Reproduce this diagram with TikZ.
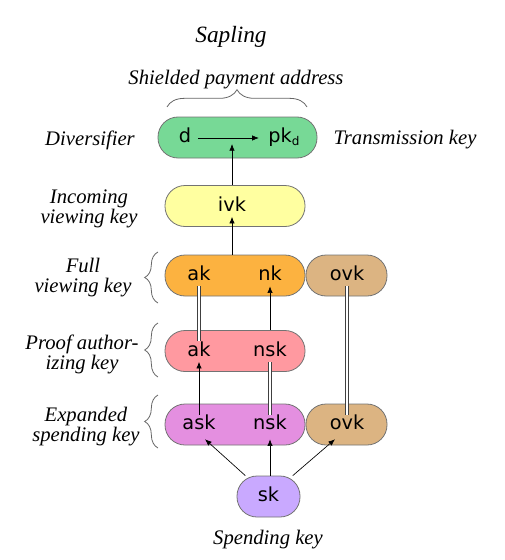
\documentclass[tikz,border=0pt]{standalone}
\usepackage{fontspec}
\setmainfont{Liberation Serif}
\newfontfamily\boxfont{DejaVu Sans}
\usetikzlibrary{arrows.meta,decorations.pathreplacing,calc}
\definecolor{cgreen}{RGB}{119,217,150}
\definecolor{cyellow}{RGB}{255,255,160}
\definecolor{corange}{RGB}{252,178,64}
\definecolor{cbrown}{RGB}{220,180,130}
\definecolor{cpink}{RGB}{255,153,160}
\definecolor{cmagenta}{RGB}{228,143,224}
\definecolor{clav}{RGB}{201,169,255}
\begin{document}
\begin{tikzpicture}[x=0.75pt,y=-0.75pt,
  keybox/.style={draw=black!55, line width=0.6pt, rounded corners=15pt, minimum height=30.75pt, inner sep=0pt},
  keytext/.style={font=\boxfont\fontsize{14.5}{17}\selectfont, inner sep=1pt, text height=10pt, text depth=3pt},
  lab/.style={font=\itshape\fontsize{15.5}{15}\selectfont, align=center},
  arr/.style={-{Latex[length=5pt,width=4pt]}, line width=0.5pt},
  dbl/.style={double=white, draw=black!75, double distance=1.4pt, line width=0.45pt},
  brc/.style={decorate, decoration={brace, amplitude=#1}, draw=black!60, line width=0.6pt}]
\useasboundingbox (0,0) rectangle (505,560);
% boxes
\node[keybox, fill=cgreen, minimum width=119.25pt] (green) at (237.5,137.5) {};
\node[keybox, fill=cyellow, minimum width=105pt] (yellow) at (235,206) {};
\node[keybox, fill=corange, minimum width=105pt] (orange) at (235,275.5) {};
\node[keybox, fill=cbrown, minimum width=60.75pt] (brownO) at (346.5,275.5) {};
\node[keybox, fill=cpink, minimum width=105pt] (pink) at (235,351) {};
\node[keybox, fill=cmagenta, minimum width=105pt] (magenta) at (235,424.5) {};
\node[keybox, fill=cbrown, minimum width=60.75pt] (brownE) at (346.5,424.5) {};
\node[keybox, fill=clav, minimum width=47.25pt] (skbox) at (268.5,496.5) {};
% texts in boxes
\node[keytext] (d) at (185,138) {d};
\node[keytext] (pk) at (284,138) {pk\raisebox{-0.25ex}{\fontsize{9}{9}\selectfont d}};
\node[keytext] (ivk) at (232,206.5) {ivk};
\node[keytext] (akO) at (199,276) {ak};
\node[keytext] (nkO) at (270,276) {nk};
\node[keytext] (ovkO) at (347,276) {ovk};
\node[keytext] (akP) at (199,351.5) {ak};
\node[keytext] (nskP) at (270,351.5) {nsk};
\node[keytext] (askE) at (199,425) {ask};
\node[keytext] (nskE) at (270,425) {nsk};
\node[keytext] (ovkE) at (347,425) {ovk};
\node[keytext] (sk) at (268.5,497) {sk};
% labels
\node[lab, font=\itshape\fontsize{17.5}{17}\selectfont] (title) at (231,37) {Sapling};
\node[lab] (spa) at (236,80) {Shielded payment address};
\node[lab] (divl) at (90,140) {Diversifier};
\node[lab] (tkl) at (405,140) {Transmission key};
\node[lab] (ivkl) at (89,209) {Incoming\\viewing key};
\node[lab] (fvkl) at (83,278) {Full\\viewing key};
\node[lab] (pakl) at (82,354) {Proof author-\\izing key};
\node[lab] (eskl) at (86,427) {Expanded\\spending key};
\node[lab] (skl) at (268,540) {Spending key};
% braces
\draw[brc=13pt] (167,107) -- (307,107);
\draw[brc=10pt] (158,303) -- (158,252);
\draw[brc=10pt] (158,377) -- (158,323);
\draw[brc=10pt] (158,448) -- (158,395);
% connectors
\coordinate (dpmid) at (232,144);
\draw[arr, shorten <=4pt, shorten >=6pt] (d.east) -- (pk.west);
\draw[arr] (ivk |- yellow.north) -- (dpmid);
\draw[arr] (ivk |- orange.north) -- (ivk.south);
\draw[dbl] (akO.south) -- (akP.north);
\draw[arr] (nkO |- pink.north) -- (nkO.south);
\draw[arr] (askE.north) -- (akP.south);
\draw[dbl] (nskE.north) -- (nskP.south);
\draw[dbl] (ovkO.south) -- (ovkE.north);
\coordinate (askTip) at ($(askE.south)+(6,4)$);
\coordinate (nskTip) at ($(nskE.south)+(0,4)$);
\coordinate (ovkTip) at ($(ovkE.south)+(-12,4)$);
\draw[arr] (skbox) -- (askTip);
\draw[arr] (skbox.north -| nskE) -- (nskTip);
\draw[arr] (skbox) -- (ovkTip);
\end{tikzpicture}
\end{document}
